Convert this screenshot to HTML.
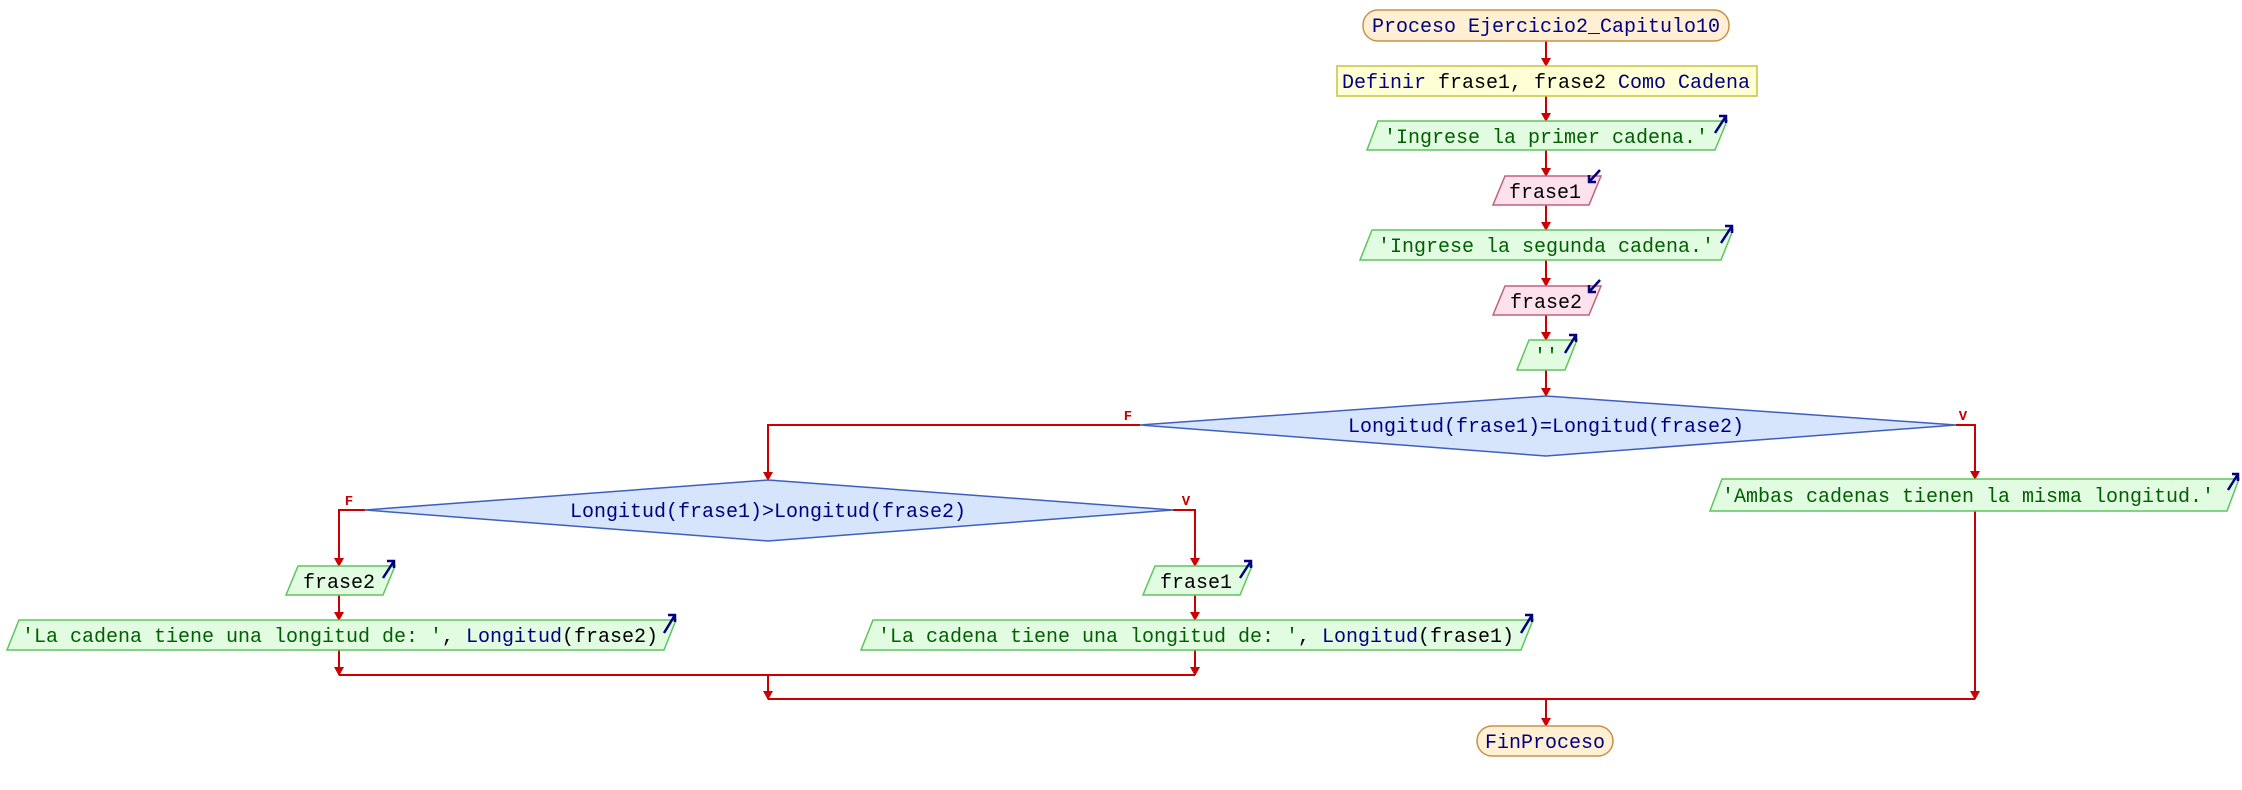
<!DOCTYPE html>
<html><head><meta charset="utf-8"><style>
html,body{margin:0;padding:0;background:#fff;}
svg{display:block;}
text{font-family:"Liberation Mono",monospace;font-size:20px;}
.k{fill:#000080}.s{fill:#006000}.v{fill:#000}
.o{fill:#e2fce2;stroke:#5ec45e;stroke-width:1.5}
.i{fill:#fde2ee;stroke:#c0607e;stroke-width:1.5}
.d{fill:#d6e4fc;stroke:#3f5fc0;stroke-width:1.5}
.l{stroke:#cc0000;stroke-width:2;fill:none}
.ic{stroke:#000080;stroke-width:2.5;fill:none}
.lb{fill:#cc0000;font-size:14px;font-weight:bold}
</style></head><body>
<svg width="2242" height="790" viewBox="0 0 2242 790" xmlns="http://www.w3.org/2000/svg">
<defs>
<marker id="a" markerWidth="10" markerHeight="10" refX="5" refY="8" orient="0" markerUnits="userSpaceOnUse">
<path d="M0,0 L10,0 L5,9 Z" fill="#cc0000"/></marker>
</defs>
<!-- main vertical connectors -->
<g class="l">
<line x1="1546" y1="41" x2="1546" y2="66" marker-end="url(#a)"/>
<line x1="1546" y1="96" x2="1546" y2="121" marker-end="url(#a)"/>
<line x1="1546" y1="150" x2="1546" y2="176" marker-end="url(#a)"/>
<line x1="1546" y1="205" x2="1546" y2="230" marker-end="url(#a)"/>
<line x1="1546" y1="260" x2="1546" y2="286" marker-end="url(#a)"/>
<line x1="1546" y1="315" x2="1546" y2="340" marker-end="url(#a)"/>
<line x1="1546" y1="370" x2="1546" y2="396" marker-end="url(#a)"/>
<polyline points="1140,425 768,425 768,480" marker-end="url(#a)"/>
<polyline points="1956,425 1975,425 1975,479" marker-end="url(#a)"/>
<polyline points="365,510 339,510 339,566" marker-end="url(#a)"/>
<polyline points="1173,510 1195,510 1195,566" marker-end="url(#a)"/>
<line x1="339" y1="595" x2="339" y2="620" marker-end="url(#a)"/>
<line x1="1195" y1="595" x2="1195" y2="620" marker-end="url(#a)"/>
<line x1="339" y1="650" x2="339" y2="675" marker-end="url(#a)"/>
<line x1="1195" y1="650" x2="1195" y2="675" marker-end="url(#a)"/>
<line x1="339" y1="675" x2="1195" y2="675"/>
<line x1="768" y1="675" x2="768" y2="699" marker-end="url(#a)"/>
<line x1="1975" y1="511" x2="1975" y2="699" marker-end="url(#a)"/>
<line x1="768" y1="699" x2="1975" y2="699"/>
<line x1="1546" y1="699" x2="1546" y2="726" marker-end="url(#a)"/>
</g>
<!-- Proceso -->
<rect x="1363" y="10" width="366" height="31" rx="15" fill="#fff0d4" stroke="#c8904a" stroke-width="1.5"/>
<text x="1546" y="32" text-anchor="middle" class="k">Proceso Ejercicio2_Capitulo10</text>
<!-- Definir -->
<rect x="1337" y="66" width="420" height="30" fill="#ffffd6" stroke="#c8c040" stroke-width="1.5"/>
<text x="1546" y="88" text-anchor="middle"><tspan class="k">Definir </tspan><tspan class="v">frase1, frase2 </tspan><tspan class="k">Como Cadena</tspan></text>
<!-- output 1 -->
<polygon class="o" points="1378,121 1727,121 1715,150 1367,150"/>
<text x="1546" y="143" text-anchor="middle" class="s">'Ingrese la primer cadena.'</text>
<path class="ic" d="M1715,133 L1726,116 M1719,116 L1726,116 L1726,123"/>
<!-- input frase1 -->
<polygon class="i" points="1505,176 1601,176 1589,205 1493,205"/>
<text x="1545" y="198" text-anchor="middle" class="v">frase1</text>
<path class="ic" d="M1600,170 L1589,182 M1589,175 L1589,182 L1596,182"/>
<!-- output 2 -->
<polygon class="o" points="1372,230 1733,230 1721,260 1360,260"/>
<text x="1546" y="252" text-anchor="middle" class="s">'Ingrese la segunda cadena.'</text>
<path class="ic" d="M1721,243 L1732,226 M1725,226 L1732,226 L1732,233"/>
<!-- input frase2 -->
<polygon class="i" points="1505,286 1601,286 1589,315 1493,315"/>
<text x="1546" y="308" text-anchor="middle" class="v">frase2</text>
<path class="ic" d="M1600,280 L1589,292 M1589,285 L1589,292 L1596,292"/>
<!-- output '' -->
<polygon class="o" points="1529,340 1577,340 1565,370 1517,370"/>
<text x="1546" y="362" text-anchor="middle" class="s">''</text>
<path class="ic" d="M1565,353 L1576,335 M1569,335 L1576,335 L1576,342"/>
<!-- diamond 1 -->
<polygon class="d" points="1546,396 1956,425 1546,456 1140,425"/>
<text x="1546" y="432" text-anchor="middle" class="k">Longitud(frase1)=Longitud(frase2)</text>
<text x="1128" y="420" class="lb" text-anchor="middle">F</text>
<text x="1963" y="420" class="lb" text-anchor="middle">V</text>
<!-- Ambas -->
<polygon class="o" points="1722,479 2239,479 2227,511 1710,511"/>
<text x="1968" y="502" text-anchor="middle" class="s">'Ambas cadenas tienen la misma longitud.'</text>
<path class="ic" d="M2228,490 L2238,474 M2232,474 L2238,474 L2238,481"/>
<!-- diamond 2 -->
<polygon class="d" points="768,480 1173,510 768,541 365,510"/>
<text x="768" y="517" text-anchor="middle" class="k">Longitud(frase1)&gt;Longitud(frase2)</text>
<text x="349" y="505" class="lb" text-anchor="middle">F</text>
<text x="1186" y="505" class="lb" text-anchor="middle">V</text>
<!-- left frase2 out -->
<polygon class="o" points="298,566 395,566 383,595 286,595"/>
<text x="339" y="588" text-anchor="middle" class="v">frase2</text>
<path class="ic" d="M383,578 L394,561 M387,561 L394,561 L394,568"/>
<!-- right frase1 out -->
<polygon class="o" points="1155,566 1252,566 1240,595 1143,595"/>
<text x="1196" y="588" text-anchor="middle" class="v">frase1</text>
<path class="ic" d="M1240,578 L1251,561 M1244,561 L1251,561 L1251,568"/>
<!-- left long -->
<polygon class="o" points="19,620 676,620 664,650 7,650"/>
<text x="340" y="642" text-anchor="middle"><tspan class="s">'La cadena tiene una longitud de: '</tspan><tspan class="v">, </tspan><tspan class="k">Longitud</tspan><tspan class="v">(frase2)</tspan></text>
<path class="ic" d="M664,633 L675,615 M668,615 L675,615 L675,622"/>
<!-- right long -->
<polygon class="o" points="873,620 1533,620 1521,650 861,650"/>
<text x="1196" y="642" text-anchor="middle"><tspan class="s">'La cadena tiene una longitud de: '</tspan><tspan class="v">, </tspan><tspan class="k">Longitud</tspan><tspan class="v">(frase1)</tspan></text>
<path class="ic" d="M1521,633 L1532,615 M1525,615 L1532,615 L1532,622"/>
<!-- FinProceso -->
<rect x="1477" y="726" width="136" height="30" rx="15" fill="#fff0d4" stroke="#c8904a" stroke-width="1.5"/>
<text x="1545" y="748" text-anchor="middle" class="k">FinProceso</text>
</svg>
</body></html>
